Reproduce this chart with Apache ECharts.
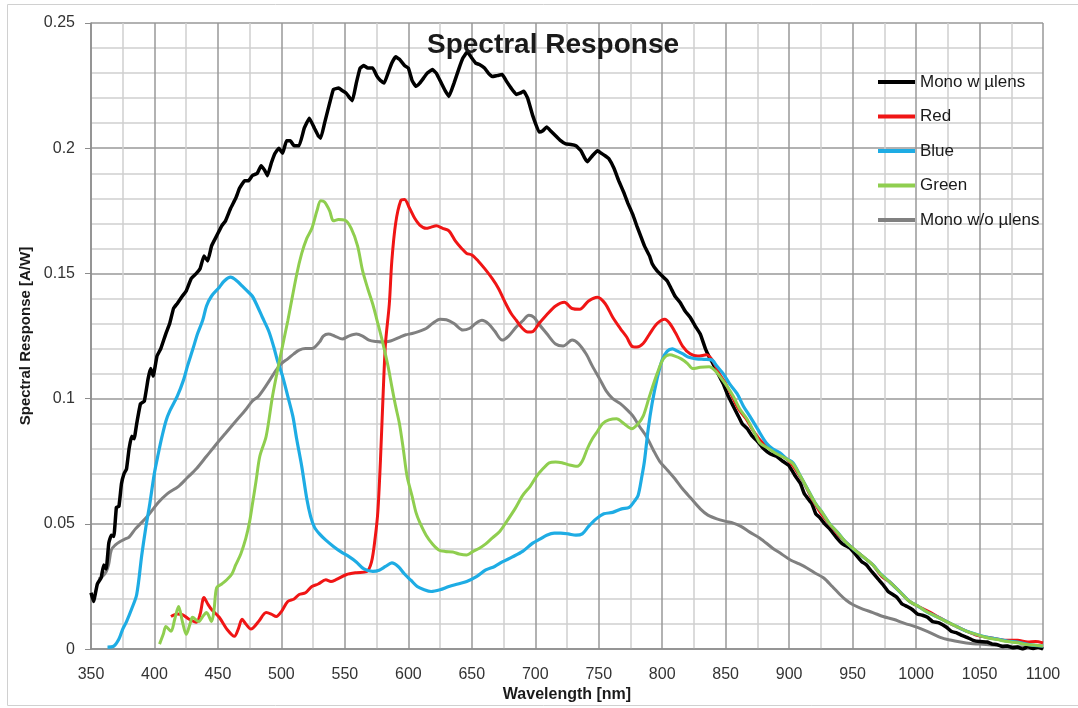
<!DOCTYPE html>
<html>
<head>
<meta charset="utf-8">
<script src="https://cdn.jsdelivr.net/npm/echarts@6/dist/echarts.min.js"></script>
<style>
  html, body { margin: 0; padding: 0; background: #fff; }
  #chart { width: 1078px; height: 708px; }
</style>
</head>
<body>
<div id="chart"></div>
<script>
// wavelength [nm], response [A/W]
var monoLens = [[350,0.0225],[352,0.019],[355,0.026],[358,0.0285],[360,0.0336],[362,0.032],[364,0.0423],[366,0.0455],[368,0.045],[370,0.0566],[372,0.057],[374,0.066],[376,0.070],[378,0.072],[380,0.08],[382,0.085],[384,0.084],[386,0.09],[389,0.098],[392,0.099],[395,0.108],[397,0.112],[399,0.109],[402,0.117],[405,0.12],[409,0.126],[412,0.13],[415,0.136],[418,0.138],[422,0.141],[425,0.143],[429,0.148],[433,0.15],[436,0.152],[439,0.157],[442,0.155],[445,0.161],[449,0.165],[453,0.169],[456,0.171],[460,0.176],[464,0.180],[467,0.184],[471,0.187],[474,0.187],[477,0.189],[481,0.19],[484,0.193],[487,0.191],[489,0.189],[492,0.194],[495,0.198],[498,0.200],[501,0.198],[504,0.203],[507,0.203],[510,0.201],[514,0.201],[518,0.208],[522,0.212],[526,0.208],[529,0.205],[531,0.204],[534,0.210],[538,0.218],[541,0.2235],[545,0.224],[548,0.223],[551,0.222],[554,0.220],[556,0.219],[559,0.226],[562,0.232],[565,0.233],[568,0.232],[572,0.232],[575,0.229],[578,0.227],[581,0.226],[584,0.230],[587,0.234],[590,0.2365],[593,0.2355],[597,0.233],[600,0.232],[603,0.227],[606,0.2247],[609,0.226],[612,0.228],[615,0.230],[619,0.2314],[622,0.230],[626,0.226],[629,0.223],[632,0.2207],[636,0.226],[640,0.232],[643,0.236],[646.5,0.2385],[650,0.236],[653,0.234],[656,0.2334],[660,0.232],[663,0.230],[666,0.2286],[670,0.229],[674,0.2294],[677,0.227],[681,0.224],[685,0.2215],[688,0.222],[691,0.2227],[694,0.220],[698,0.213],[703,0.2065],[706,0.207],[709,0.2085],[712,0.207],[716,0.205],[720,0.203],[724,0.2017],[728,0.2015],[732,0.201],[736,0.199],[739,0.196],[741,0.1946],[745,0.197],[749,0.199],[752,0.198],[755,0.197],[758,0.1958],[762,0.192],[766,0.1867],[770,0.182],[773,0.178],[777,0.1733],[780,0.169],[783,0.165],[786,0.161],[790,0.157],[792,0.154],[796,0.151],[800,0.149],[804,0.147],[807,0.144],[810,0.141],[814,0.1385],[818,0.135],[822,0.1325],[826,0.129],[830,0.1258],[834,0.120],[837,0.1167],[840,0.114],[844,0.110],[848,0.106],[852,0.101],[856,0.097],[860,0.093],[863,0.090],[867,0.088],[871,0.085],[875,0.083],[880,0.080],[885,0.078],[890,0.077],[895,0.075],[900,0.0732],[905,0.069],[909,0.066],[912,0.062],[915,0.060],[918,0.058],[921,0.054],[924,0.0526],[928,0.050],[932,0.048],[937,0.0447],[942,0.042],[948,0.0403],[952,0.038],[957,0.035],[961,0.0336],[965,0.031],[970,0.028],[974,0.0257],[978,0.023],[981,0.022],[985,0.0206],[989,0.018],[993,0.017],[997,0.0158],[1001,0.014],[1005,0.0135],[1009,0.0127],[1013,0.011],[1018,0.0105],[1024,0.0087],[1028,0.007],[1032,0.0065],[1036,0.0055],[1040,0.0047],[1045,0.0035],[1050,0.003],[1056,0.0028],[1060,0.002],[1064,0.0018],[1068,0.001],[1072,0.0012],[1076,0.0005],[1080,0.0008],[1084,0],[1088,0.001],[1092,0.0002],[1096,0.0008],[1100,0]];

var red = [[413,0.013],[418,0.014],[422,0.0138],[427,0.012],[433,0.0107],[436,0.014],[439,0.0206],[442,0.018],[445,0.0158],[451,0.0127],[457,0.008],[463,0.0051],[466,0.008],[469,0.0119],[472,0.010],[476,0.008],[482,0.011],[488,0.0146],[492,0.014],[496,0.013],[500,0.015],[505,0.019],[510,0.020],[514,0.0218],[519,0.0225],[524,0.025],[529,0.026],[535,0.0277],[539,0.027],[543,0.0277],[551,0.0297],[559,0.0305],[567,0.0309],[571,0.0348],[574,0.045],[576,0.055],[578,0.075],[580,0.100],[582,0.122],[585,0.1377],[587,0.155],[590,0.170],[594,0.179],[597,0.1795],[601,0.176],[605,0.172],[609,0.1693],[614,0.168],[618,0.1685],[622,0.169],[627,0.168],[632,0.167],[637,0.163],[642,0.160],[646,0.158],[650,0.1574],[655,0.155],[660,0.152],[666,0.148],[671,0.144],[677,0.1377],[681,0.134],[685,0.1313],[690,0.128],[694,0.1266],[698,0.1268],[703,0.130],[709,0.1335],[716,0.137],[723,0.1385],[729,0.136],[735,0.1357],[742,0.139],[749,0.1405],[755,0.138],[761,0.1325],[767,0.128],[772,0.1246],[776,0.121],[780,0.1206],[785,0.122],[790,0.1258],[796,0.130],[802,0.1317],[806,0.130],[811,0.1258],[816,0.121],[822,0.1179],[828,0.117],[835,0.1175],[840,0.115],[845,0.110],[850,0.106],[855,0.101],[860,0.096],[866,0.092],[872,0.087],[878,0.083],[885,0.080],[892,0.078],[900,0.075],[906,0.071],[912,0.066],[918,0.060],[924,0.055],[930,0.051],[937,0.0467],[944,0.043],[950,0.0403],[958,0.037],[966,0.0336],[973,0.029],[979,0.0269],[987,0.023],[995,0.019],[1002,0.017],[1010,0.015],[1017,0.013],[1024,0.011],[1032,0.009],[1040,0.0071],[1048,0.0055],[1056,0.0047],[1064,0.004],[1072,0.0035],[1080,0.0035],[1088,0.0028],[1094,0.003],[1100,0.0025]];

var blue = [[363,0.0008],[368,0.0012],[372,0.004],[375,0.008],[378,0.011],[382,0.016],[386,0.0218],[390,0.0376],[393,0.048],[396,0.057],[400,0.0704],[403,0.078],[406,0.085],[409,0.091],[412,0.095],[418,0.101],[423,0.1076],[426,0.113],[430,0.1194],[434,0.126],[438,0.1313],[441,0.137],[445,0.141],[451,0.1444],[455,0.147],[460,0.1485],[465,0.147],[469,0.145],[473,0.143],[477,0.141],[481,0.137],[485,0.1325],[490,0.127],[494,0.1206],[497,0.115],[501,0.1088],[505,0.101],[509,0.093],[512,0.084],[516,0.073],[520,0.060],[523,0.053],[526,0.0487],[530,0.046],[535,0.0435],[541,0.041],[547,0.0388],[553,0.037],[559,0.0348],[565,0.032],[572,0.031],[577,0.0315],[582,0.033],[587,0.0344],[592,0.033],[597,0.030],[602,0.0275],[607,0.025],[612,0.0238],[618,0.023],[625,0.0237],[632,0.025],[639,0.026],[646,0.027],[654,0.029],[661,0.0316],[668,0.033],[674,0.0348],[682,0.0368],[690,0.039],[698,0.0423],[704,0.044],[709,0.0455],[715,0.0463],[720,0.0463],[726,0.046],[732,0.0455],[737,0.046],[742,0.049],[748,0.052],[754,0.054],[761,0.0546],[768,0.056],[774,0.0566],[778,0.059],[781,0.0613],[784,0.069],[786,0.075],[789,0.088],[792,0.098],[796,0.108],[800,0.1155],[804,0.119],[808,0.1199],[812,0.119],[816,0.118],[821,0.1165],[827,0.1159],[833,0.1157],[839,0.1155],[843,0.113],[848,0.11],[853,0.106],[859,0.102],[864,0.097],[869,0.093],[875,0.088],[882,0.0823],[887,0.080],[893,0.0783],[898,0.076],[903,0.0744],[909,0.069],[916,0.0625],[921,0.058],[926,0.0546],[932,0.050],[938,0.0467],[944,0.043],[950,0.0403],[958,0.037],[966,0.0336],[972,0.030],[979,0.0269],[987,0.023],[995,0.019],[1002,0.017],[1008,0.015],[1016,0.013],[1024,0.011],[1032,0.009],[1040,0.0071],[1048,0.0058],[1056,0.0047],[1064,0.004],[1072,0.0032],[1080,0.0028],[1087,0.002],[1093,0.0015],[1100,0.0012]];

var green = [[404,0.002],[407,0.006],[409,0.009],[413,0.0071],[416,0.012],[419,0.017],[422,0.011],[425,0.0059],[428,0.010],[430,0.0127],[435,0.011],[438,0.013],[441,0.0146],[445,0.011],[447,0.016],[449,0.0245],[453,0.026],[457,0.0277],[461,0.030],[464,0.0336],[468,0.038],[472,0.0443],[475,0.051],[477,0.0573],[480,0.067],[483,0.077],[488,0.085],[493,0.101],[498,0.114],[505,0.131],[512,0.1495],[516,0.158],[520,0.164],[524,0.168],[528,0.175],[531,0.179],[534,0.1785],[538,0.175],[541,0.171],[545,0.1715],[550,0.1713],[555,0.168],[560,0.161],[564,0.151],[568,0.144],[572,0.1377],[576,0.13],[580,0.122],[584,0.113],[587,0.1048],[590,0.097],[593,0.090],[596,0.08],[599,0.069],[603,0.061],[606,0.0546],[609,0.0506],[614,0.0455],[619,0.042],[624,0.0396],[629,0.039],[635,0.0388],[640,0.038],[646,0.0376],[651,0.039],[656,0.0403],[661,0.042],[666,0.0443],[672,0.047],[677,0.0506],[684,0.056],[690,0.0613],[696,0.065],[701,0.069],[706,0.072],[711,0.0744],[716,0.0747],[721,0.0744],[727,0.0735],[733,0.073],[737,0.075],[741,0.08],[745,0.084],[749,0.087],[753,0.090],[758,0.0915],[764,0.092],[770,0.090],[776,0.088],[781,0.090],[785,0.093],[790,0.101],[796,0.110],[801,0.116],[806,0.1175],[810,0.117],[815,0.1159],[820,0.114],[824,0.112],[830,0.1125],[837,0.1127],[842,0.111],[846,0.1085],[851,0.105],[856,0.101],[861,0.096],[867,0.0918],[872,0.087],[877,0.0823],[884,0.080],[890,0.078],[896,0.0765],[903,0.074],[909,0.069],[916,0.0625],[921,0.058],[926,0.0546],[932,0.050],[938,0.0467],[944,0.043],[950,0.0403],[958,0.037],[966,0.0336],[972,0.030],[979,0.0269],[987,0.023],[995,0.019],[1002,0.017],[1008,0.015],[1016,0.013],[1024,0.011],[1032,0.009],[1040,0.0071],[1048,0.0058],[1056,0.0045],[1064,0.0038],[1072,0.003],[1080,0.0025],[1087,0.0018],[1093,0.0016],[1100,0.0012]];

var monoNoLens = [[356,0.028],[359,0.029],[362,0.031],[364,0.034],[366,0.0396],[369,0.0415],[373,0.043],[377,0.044],[380,0.0447],[385,0.048],[390,0.0506],[396,0.054],[403,0.0585],[410,0.062],[419,0.065],[426,0.0685],[433,0.072],[441,0.077],[449,0.082],[456,0.0862],[464,0.091],[472,0.0957],[477,0.099],[482,0.101],[489,0.106],[496,0.1115],[500,0.114],[505,0.1159],[510,0.118],[514,0.1194],[519,0.120],[524,0.120],[530,0.1226],[533,0.125],[537,0.1258],[542,0.125],[548,0.1238],[553,0.125],[559,0.1258],[564,0.125],[569,0.1234],[575,0.1228],[580,0.1226],[586,0.123],[593,0.1245],[598,0.1255],[603,0.126],[609,0.127],[614,0.128],[619,0.130],[625,0.1317],[630,0.1315],[636,0.130],[643,0.1274],[648,0.128],[653,0.130],[658,0.1313],[663,0.130],[668,0.127],[674,0.1234],[679,0.125],[685,0.1286],[690,0.131],[695,0.1333],[699,0.1325],[703,0.1297],[709,0.126],[716,0.1218],[722,0.121],[729,0.1234],[734,0.122],[740,0.1179],[745,0.113],[751,0.1076],[756,0.103],[761,0.100],[767,0.098],[772,0.0957],[777,0.093],[782,0.089],[788,0.0845],[793,0.0795],[798,0.075],[804,0.0715],[810,0.068],[816,0.064],[823,0.060],[830,0.056],[836,0.0535],[843,0.052],[850,0.051],[856,0.0503],[862,0.049],[869,0.0467],[877,0.0443],[887,0.0403],[894,0.038],[901,0.0356],[908,0.034],[914,0.0324],[920,0.0305],[927,0.0285],[934,0.025],[940,0.0218],[945,0.0195],[950,0.0178],[958,0.016],[966,0.0146],[974,0.013],[982,0.0119],[991,0.0103],[1001,0.0087],[1010,0.0068],[1019,0.0047],[1027,0.0036],[1035,0.0028],[1043,0.0022],[1050,0.002],[1060,0.0016],[1072,0.0012],[1087,0.0008],[1100,0.0006]];

var legendNames = ['Mono w \u00b5lens', 'Red', 'Blue', 'Green', 'Mono w/o \u00b5lens'];

var chart = echarts.init(document.getElementById('chart'));

function line(name, data, color, width, smooth) {
    return {
        name: name,
        type: 'line',
        data: data,
        showSymbol: false,
        smooth: smooth,
        lineStyle: { color: color, width: width },
        itemStyle: { color: color }
    };
}

var font = 'Liberation Sans, Arial, sans-serif';

var option = {
    animation: false,
    textStyle: { fontFamily: font },
    title: {
        text: 'Spectral Response',
        left: 548,
        top: 26,
        textAlign: 'center',
        textStyle: { fontSize: 28, fontWeight: 'bold', color: '#1a1a1a', fontFamily: font }
    },
    legend: {
        orient: 'vertical',
        left: 878,
        top: 73,
        padding: 0,
        data: legendNames,
        icon: 'rect',
        itemWidth: 37,
        itemHeight: 4,
        itemGap: 16.5,
        textStyle: { fontSize: 17, color: '#1a1a1a', lineHeight: 18 }
    },
    grid: { left: 91, right: 35, top: 23, bottom: 53 },
    xAxis: {
        type: 'value',
        min: 350,
        max: 1100,
        interval: 50,
        name: 'Wavelength [nm]',
        nameLocation: 'middle',
        nameGap: 31,
        nameTextStyle: { fontSize: 16, fontWeight: 'bold', color: '#1a1a1a' },
        axisLine: { show: true, lineStyle: { color: '#8c8c8c', width: 1.5 } },
        axisTick: { show: false },
        axisLabel: {
            fontSize: 16, color: '#333', margin: 17,
            formatter: function (v) { return String(v); }
        },
        splitLine: { show: true, lineStyle: { color: '#999', width: 1.5 } },
        minorTick: { show: false, splitNumber: 2 },
        minorSplitLine: { show: true, lineStyle: { color: '#cfcfcf', width: 1.5 } }
    },
    yAxis: {
        type: 'value',
        min: 0,
        max: 0.25,
        interval: 0.05,
        name: 'Spectral Response [A/W]',
        nameLocation: 'middle',
        nameGap: 58,
        nameTextStyle: { fontSize: 15, fontWeight: 'bold', color: '#1a1a1a' },
        axisLine: { show: true, lineStyle: { color: '#8c8c8c', width: 1.5 } },
        axisTick: { show: true, length: 6, lineStyle: { color: '#8c8c8c' } },
        axisLabel: { fontSize: 16, color: '#333', margin: 16 },
        splitLine: { show: true, lineStyle: { color: '#999', width: 1.5 } },
        minorTick: { show: false, splitNumber: 5 },
        minorSplitLine: { show: true, lineStyle: { color: '#cfcfcf', width: 1.5 } }
    },
    graphic: [{
        type: 'rect',
        shape: { x: 7.5, y: 4.5, width: 1100, height: 701 },
        style: { fill: 'none', stroke: '#d0d0d0', lineWidth: 1 },
        silent: true
    }],
    series: [
        line(legendNames[4], monoNoLens, '#808080', 3, 0.3),
        line(legendNames[0], monoLens, '#000000', 3.5, 0.1),
        line(legendNames[1], red, '#f01515', 3, 0.3),
        line(legendNames[2], blue, '#1eace4', 3.2, 0.3),
        line(legendNames[3], green, '#8fce4f', 3, 0.3)
    ]
};

chart.setOption(option);
window.addEventListener('resize', function () {
    chart.resize();
});
</script>
</body>
</html>
